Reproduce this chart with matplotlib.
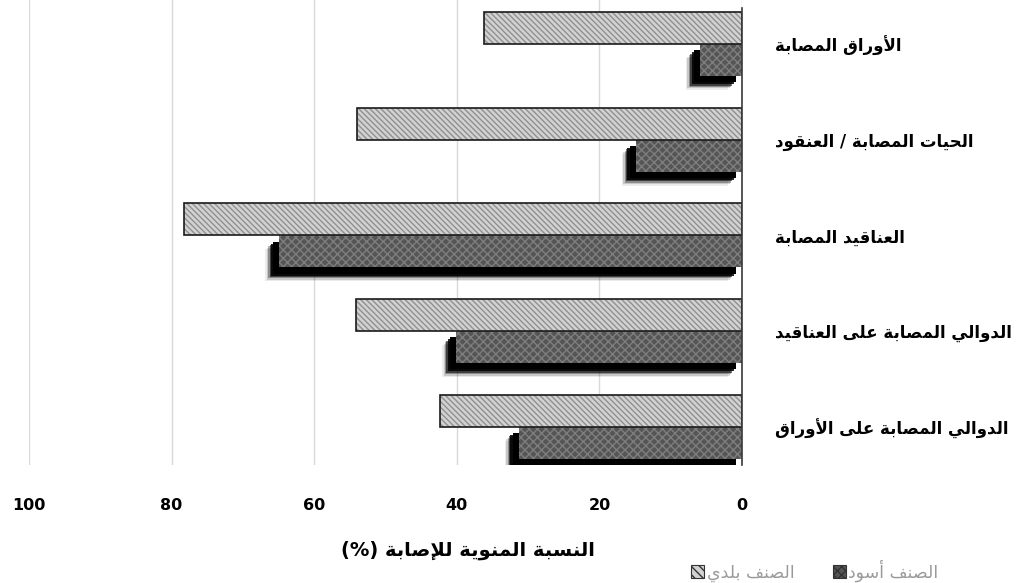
import matplotlib
matplotlib.use("Agg")
import matplotlib.pyplot as plt
import matplotlib.patheffects as pe
from matplotlib.patches import Patch
import numpy as np

categories = ['الأوراق المصابة', 'الحيات المصابة / العنقود', 'العناقيد المصابة',
              'الدوالي المصابة على العناقيد', 'الدوالي المصابة على الأوراق']
baladi = [36.2, 54.0, 78.3, 54.1, 42.4]
aswad = [5.9, 14.9, 64.9, 40.1, 31.3]
series_names = ['الصنف بلدي', 'الصنف أسود']
xticks = [100, 80, 60, 40, 20, 0]
xlabel = 'النسبة المنوية للإصابة (%)'

DUAL = {'ب': 0xFE8F, 'ت': 0xFE95, 'ح': 0xFEA1, 'س': 0xFEB1, 'ص': 0xFEB9, 'ع': 0xFEC9,
        'ف': 0xFED1, 'ق': 0xFED5, 'ل': 0xFEDD, 'م': 0xFEE1, 'ن': 0xFEE5, 'ي': 0xFEF1, 'ه': 0xFEE9}
RIGHT = {'ا': 0xFE8D, 'أ': 0xFE83, 'إ': 0xFE87, 'آ': 0xFE81, 'ة': 0xFE93, 'د': 0xFEA9,
         'ذ': 0xFEAB, 'ر': 0xFEAD, 'ز': 0xFEAF, 'و': 0xFEED, 'ى': 0xFEEF}
LAMALEF = {'آ': 0xFEF5, 'أ': 0xFEF7, 'إ': 0xFEF9, 'ا': 0xFEFB}


def shape(s):
    out = []
    i = 0
    n = len(s)
    while i < n:
        c = s[i]
        prev = s[i - 1] if i > 0 else ''
        jp = prev in DUAL
        if c == 'ل' and i + 1 < n and s[i + 1] in LAMALEF:
            b = LAMALEF[s[i + 1]]
            out.append(chr(b + 1 if jp else b))
            i += 2
            continue
        if c in DUAL:
            nxt = s[i + 1] if i + 1 < n else ''
            jn = nxt in DUAL or nxt in RIGHT
            b = DUAL[c]
            if jp and jn:
                f = b + 3
            elif jp:
                f = b + 1
            elif jn:
                f = b + 2
            else:
                f = b
            out.append(chr(f))
        elif c in RIGHT:
            b = RIGHT[c]
            out.append(chr(b + 1 if jp else b))
        else:
            out.append(c)
        i += 1
    vis = ''.join(out)[::-1]
    return vis.translate(str.maketrans('()', ')('))


plt.rcParams['font.family'] = ['DejaVu Sans']
plt.rcParams['hatch.linewidth'] = 1.0

fig = plt.figure(figsize=(10.18, 5.83), dpi=100)
ax = fig.add_axes([29 / 1018, 1 - 465 / 583, (742 - 29) / 1018, 465 / 583])

y = np.arange(len(categories))
h = 0.334

light_face = '#d2d2d2'
light_hatch = '#909090'
dark_face = '#555555'
dark_hatch = '#7e7e7e'

# light bars (hatched face, then black outline)
ax.barh(y - h / 2, baladi, height=h, color=light_face, edgecolor=light_hatch,
        hatch='\\\\\\\\\\\\', linewidth=0, zorder=3)
ax.barh(y - h / 2, baladi, height=h, facecolor='none', edgecolor='#1a1a1a',
        linewidth=1.2, zorder=4)

# soft shadow behind dark bars (shadow only, no hatch)
shadow = [pe.SimplePatchShadow(offset=(-10, -10), shadow_rgbFace='black', alpha=0.08),
          pe.SimplePatchShadow(offset=(-9, -9), shadow_rgbFace='black', alpha=0.15),
          pe.SimplePatchShadow(offset=(-8, -8), shadow_rgbFace='black', alpha=0.3),
          pe.SimplePatchShadow(offset=(-7, -7), shadow_rgbFace='black', alpha=0.55),
          pe.SimplePatchShadow(offset=(-6, -6), shadow_rgbFace='black', alpha=0.85),
          pe.SimplePatchShadow(offset=(-4.5, -4.5), shadow_rgbFace='black', alpha=1.0)]
sh = ax.barh(y + h / 2, aswad, height=h, color='black', linewidth=0, zorder=1.5)
for b in sh:
    b.set_path_effects(shadow)

ax.barh(y + h / 2, aswad, height=h, color=dark_face, edgecolor=dark_hatch,
        hatch='xxxx', linewidth=0, zorder=2)

ax.set_xlim(100, 0)
ax.set_ylim(4.40, -0.46)
ax.set_xticks(xticks)
ax.set_xticklabels([str(t) for t in xticks], fontsize=11.5, fontweight='bold')
ax.tick_params(axis='x', length=0, pad=24)
ax.xaxis.grid(True, color='#d9d9d9', linewidth=1.0, zorder=0)
ax.set_axisbelow(True)

ax.yaxis.tick_right()
ax.set_yticks(y)
ax.set_yticklabels([shape(c) for c in categories], fontsize=12.0, fontweight='bold')
ax.tick_params(axis='y', length=0, pad=24)

for s in ['top', 'left', 'bottom']:
    ax.spines[s].set_visible(False)
ax.spines['right'].set_color('#3a3a3a')
ax.spines['right'].set_linewidth(1.2)
ax.spines['right'].set_bounds(-0.38, 4.40)
ax.spines['right'].set_zorder(5)

fig.text(468 / 1018, 1 - 550 / 583, shape(xlabel), fontsize=14, fontweight='bold',
         ha='center', va='center')

handles = [Patch(facecolor=light_face, edgecolor='#333333', hatch='\\\\\\\\', linewidth=0.8),
           Patch(facecolor=dark_face, edgecolor='#333333', hatch='xxxx', linewidth=0.8)]
leg = fig.legend(handles, [shape(n) for n in series_names], ncol=2, frameon=False,
                 loc='center', bbox_to_anchor=(815 / 1018, 1 - 571 / 583),
                 fontsize=12.5, handlelength=0.75, handleheight=0.75, handletextpad=0.15,
                 columnspacing=2.2, labelcolor='#9a9a9a', borderpad=0, borderaxespad=0)

fig.savefig('out.png', dpi=100)
